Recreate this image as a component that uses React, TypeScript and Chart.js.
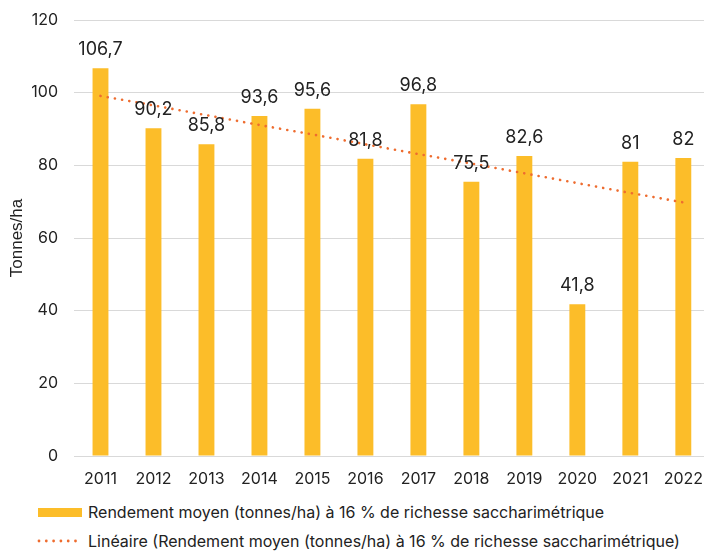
import React, { useEffect, useRef } from "react";
import { Chart, registerables } from "chart.js";

Chart.register(...registerables);

const years = ["2011", "2012", "2013", "2014", "2015", "2016", "2017", "2018", "2019", "2020", "2021", "2022"];
const rendement = [106.7, 90.2, 85.8, 93.6, 95.6, 81.8, 96.8, 75.5, 82.6, 41.8, 81, 82];
const tendance = [99.1, 96.5, 93.8, 91.1, 88.5, 85.8, 83.1, 80.5, 77.8, 75.1, 72.4, 69.8];
const yTicks = [0, 20, 40, 60, 80, 100, 120];

const barLabel = "Rendement moyen (tonnes/ha) à 16 % de richesse saccharimétrique";
const lineLabel = "Linéaire (Rendement moyen (tonnes/ha) à 16 % de richesse saccharimétrique)";

const BAR_COLOR = "#FCBD29";
const LINE_COLOR = "#EE6C2F";
const TEXT = "#222222";
const FONT = "Inter, 'Open Sans', sans-serif";

const fmt = (v: number) => String(v).replace(".", ",");

const labelPlugin = {
  id: "barLabels",
  afterDatasetsDraw(chart: any) {
    const ctx = chart.ctx;
    const meta = chart.getDatasetMeta(0);
    ctx.save();
    ctx.font = `18px ${FONT}`;
    ctx.fillStyle = TEXT;
    ctx.textAlign = "center";
    ctx.textBaseline = "alphabetic";
    meta.data.forEach((bar: any, i: number) => {
      ctx.fillText(fmt(rendement[i]), bar.x, bar.y - 13);
    });
    ctx.restore();
  },
};

export default function App() {
  const ref = useRef<HTMLCanvasElement>(null);
  useEffect(() => {
    const prevMargin = document.body.style.margin;
    document.body.style.margin = "0";
    const chart = new Chart(ref.current!, {
      type: "bar",
      data: {
        labels: years,
        datasets: [
          {
            type: "bar",
            label: barLabel,
            data: rendement,
            backgroundColor: BAR_COLOR,
            barPercentage: 0.3,
            categoryPercentage: 1,
            order: 2,
          },
          {
            type: "line",
            label: lineLabel,
            data: tendance,
            borderColor: LINE_COLOR,
            borderWidth: 2.6,
            borderDash: [0.1, 7.2],
            borderCapStyle: "round",
            pointRadius: 0,
            fill: false,
            tension: 0,
            order: 1,
          } as any,
        ],
      },
      options: {
        animation: false,
        responsive: false,
        maintainAspectRatio: false,
        layout: { padding: { top: 8, right: 0, left: 0, bottom: 0 } },
        plugins: { legend: { display: false }, tooltip: { enabled: false } },
        scales: {
          x: {
            grid: { display: false, drawTicks: false },
            border: { display: true, color: "#d9d9d9", width: 1 },
            ticks: { color: TEXT, font: { family: FONT, size: 16 }, padding: 14, maxRotation: 0 },
            afterFit: (s: any) => {
              s.height = 39;
            },
          },
          y: {
            min: 0,
            max: 120,
            afterBuildTicks: (s: any) => {
              s.ticks = yTicks.map((v) => ({ value: v }));
            },
            grid: { color: "#d9d9d9", drawTicks: false, lineWidth: 1 },
            border: { display: false },
            ticks: { color: TEXT, font: { family: FONT, size: 16, lineHeight: 0.5 }, padding: 16 },
            title: {
              display: true,
              text: "Tonnes/ha",
              color: TEXT,
              font: { family: "'Liberation Sans', Arial, sans-serif", size: 17 },
              padding: { top: 7, bottom: 0 },
            },
            afterFit: (s: any) => {
              s.width = 74;
            },
          },
        },
      },
      plugins: [labelPlugin],
    });
    return () => {
      chart.destroy();
      document.body.style.margin = prevMargin;
    };
  }, []);

  const legendText: React.CSSProperties = {
    position: "absolute",
    left: 88,
    fontFamily: FONT,
    fontSize: 16,
    color: TEXT,
    whiteSpace: "nowrap",
    lineHeight: "20px",
  };

  return (
    <div style={{ position: "relative", width: 704, height: 551, overflow: "hidden", background: "#fff" }}>
      <canvas ref={ref} width={717} height={495} style={{ position: "absolute", left: 0, top: 0, width: 717, height: 495 }} />
      <div style={{ position: "absolute", left: 38, top: 508, width: 44, height: 9, background: BAR_COLOR }} />
      <div style={{ ...legendText, top: 502 }}>{barLabel}</div>
      <svg style={{ position: "absolute", left: 36, top: 536 }} width={46} height={10}>
        {[0, 1, 2, 3, 4, 5].map((i) => (
          <circle key={i} cx={3 + i * 7.3} cy={5} r={1.4} fill={LINE_COLOR} />
        ))}
      </svg>
      <div style={{ ...legendText, top: 531 }}>{lineLabel}</div>
    </div>
  );
}
